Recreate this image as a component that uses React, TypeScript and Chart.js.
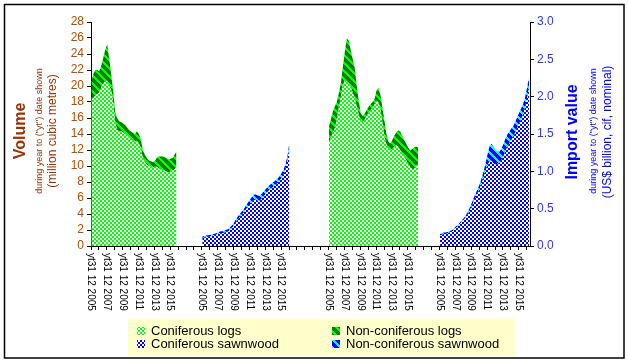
import React, { useEffect, useRef } from 'react';
import { Chart, registerables } from 'chart.js';
Chart.register(...registerables);

// ---- category / label data ----
const labelYears = ['2005', '2007', '2009', '2011', '2013', '2015'];
const tickLabels = labelYears.map((y) => `yt31 12 ${y}`);
const groupStartMonth = [0, 168, 360, 528]; // month slots of each panel on the shared axis
const totalMonths = 665;
const monthStep = 3; // values below are read every 3 months from Dec 2005

// ---- Volume (million m3) ----
const coniferousLogsVol = [18.3, 18.5, 18.8, 19.0, 19.2, 19.8, 20.3, 20.6, 20.6, 20.0, 19.5, 18.0, 15.5, 14.5, 14.3, 14.3, 14.2, 14.0, 13.8, 13.6, 13.4, 13.2, 13.0, 13.2, 12.8, 12.2, 11.0, 10.5, 10.2, 10.0, 9.9, 9.8, 9.9, 9.9, 9.7, 9.6, 9.5, 9.4, 9.3, 9.2, 9.3, 9.4, 9.6, 9.8];
const nonConiferousLogsVol = [2.2, 3.0, 3.2, 3.0, 2.6, 2.7, 3.2, 3.9, 4.6, 3.5, 2.0, 1.5, 1.3, 1.5, 1.3, 1.2, 1.1, 1.2, 1.0, 0.9, 0.9, 1.0, 1.0, 1.1, 1.2, 1.1, 1.0, 0.9, 0.8, 0.7, 0.7, 0.7, 0.7, 1.1, 1.5, 1.6, 1.7, 1.7, 1.7, 1.6, 1.6, 1.6, 1.8, 2.0];
const coniferousSawnVol = [1.0, 1.05, 1.1, 1.15, 1.2, 1.25, 1.3, 1.4, 1.5, 1.6, 1.6, 1.65, 1.75, 1.8, 2.0, 2.25, 2.55, 2.95, 3.35, 3.65, 3.95, 4.2, 4.55, 4.85, 5.1, 5.4, 5.7, 5.8, 5.7, 5.65, 5.9, 6.2, 6.5, 6.8, 7.0, 7.2, 7.45, 7.65, 7.85, 8.15, 8.5, 8.9, 9.6, 10.6, 12.3];
const nonConiferousSawnVol = [0.2, 0.2, 0.2, 0.2, 0.2, 0.2, 0.2, 0.2, 0.2, 0.2, 0.25, 0.25, 0.25, 0.3, 0.3, 0.3, 0.35, 0.35, 0.35, 0.35, 0.35, 0.4, 0.45, 0.55, 0.65, 0.7, 0.7, 0.65, 0.6, 0.6, 0.6, 0.6, 0.6, 0.6, 0.6, 0.6, 0.55, 0.55, 0.55, 0.55, 0.6, 0.6, 0.6, 0.6, 0.6];

// ---- Import value (US$ billion) ----
const coniferousLogsVal = [1.38, 1.45, 1.52, 1.58, 1.7, 1.85, 2.0, 2.15, 2.22, 2.2, 2.17, 2.13, 2.05, 1.98, 1.87, 1.76, 1.66, 1.65, 1.69, 1.74, 1.79, 1.82, 1.85, 1.9, 1.95, 1.93, 1.82, 1.65, 1.47, 1.36, 1.31, 1.28, 1.3, 1.33, 1.35, 1.33, 1.28, 1.24, 1.2, 1.15, 1.1, 1.06, 1.03, 1.03, 1.08, 1.1];
const nonConiferousLogsVal = [0.22, 0.25, 0.28, 0.29, 0.23, 0.2, 0.18, 0.25, 0.38, 0.58, 0.58, 0.49, 0.45, 0.4, 0.28, 0.19, 0.12, 0.09, 0.08, 0.08, 0.07, 0.08, 0.08, 0.07, 0.13, 0.19, 0.2, 0.2, 0.21, 0.14, 0.09, 0.09, 0.12, 0.15, 0.17, 0.22, 0.25, 0.23, 0.22, 0.22, 0.22, 0.22, 0.27, 0.29, 0.25, 0.22];
const coniferousSawnVal = [0.14, 0.15, 0.16, 0.16, 0.17, 0.18, 0.19, 0.21, 0.24, 0.26, 0.29, 0.32, 0.35, 0.38, 0.42, 0.47, 0.53, 0.59, 0.65, 0.71, 0.76, 0.83, 0.91, 1.0, 1.08, 1.13, 1.14, 1.1, 1.09, 1.1, 1.11, 1.15, 1.2, 1.27, 1.32, 1.37, 1.42, 1.46, 1.52, 1.58, 1.64, 1.7, 1.76, 1.85, 1.98, 2.11];
const nonConiferousSawnVal = [0.02, 0.02, 0.02, 0.02, 0.02, 0.02, 0.02, 0.02, 0.02, 0.02, 0.02, 0.02, 0.02, 0.03, 0.03, 0.04, 0.04, 0.05, 0.05, 0.05, 0.06, 0.07, 0.08, 0.1, 0.14, 0.2, 0.23, 0.23, 0.2, 0.17, 0.15, 0.15, 0.16, 0.16, 0.17, 0.16, 0.15, 0.14, 0.14, 0.14, 0.14, 0.14, 0.14, 0.14, 0.14, 0.14];

const legendItems = ['Coniferous logs', 'Non-coniferous logs', 'Coniferous sawnwood', 'Non-coniferous sawnwood'];

const FONT = '"Liberation Sans", Arial, sans-serif';
const BROWN = '#993300';
const BROWN_TICK = '#B84C00';
const BLUE = '#0000FF';

function makePattern(c1: string, c2: string, kind: 'checker' | 'stripe'): CanvasPattern | string {
  const t = document.createElement('canvas');
  t.width = 8;
  t.height = 8;
  const g = t.getContext('2d');
  if (!g) return c1;
  for (let y = 0; y < 8; y++) {
    for (let x = 0; x < 8; x++) {
      let on: boolean;
      if (kind === 'checker') on = (Math.floor(x / 2) + Math.floor(y / 2)) % 2 === 0;
      else on = (((x - y) % 8) + 8) % 8 < 3;
      g.fillStyle = on ? c2 : c1;
      g.fillRect(x, y, 1, 1);
    }
  }
  const p = g.createPattern(t, 'repeat');
  return p || c1;
}

function pts(offset: number, vals: number[], base?: number[]) {
  return vals.map((v, i) => ({ x: offset + i * monthStep + 0.5, y: v + (base ? base[i] : 0) }));
}

export default function App() {
  const ref = useRef<HTMLCanvasElement>(null);

  useEffect(() => {
    const canvas = ref.current;
    if (!canvas) return;
    const greenChecker = makePattern('#FFFFFF', '#00FF00', 'checker');
    const greenStripe = makePattern('#008000', '#00FF00', 'stripe');
    const blueChecker = makePattern('#FFFFFF', '#0000FF', 'checker');
    const blueStripe = makePattern('#0000FF', '#00FFFF', 'stripe');
    const swatches = [greenChecker, greenStripe, blueChecker, blueStripe];

    const groups = [
      { c: coniferousLogsVol, n: nonConiferousLogsVol, axis: 'y', pc: greenChecker, pn: greenStripe },
      { c: coniferousSawnVol, n: nonConiferousSawnVol, axis: 'y', pc: blueChecker, pn: blueStripe },
      { c: coniferousLogsVal, n: nonConiferousLogsVal, axis: 'y1', pc: greenChecker, pn: greenStripe },
      { c: coniferousSawnVal, n: nonConiferousSawnVal, axis: 'y1', pc: blueChecker, pn: blueStripe },
    ];
    const datasets: any[] = [];
    groups.forEach((g, gi) => {
      const off = groupStartMonth[gi];
      datasets.push({
        type: 'line', data: pts(off, g.c), yAxisID: g.axis, fill: 'origin',
        backgroundColor: g.pc, borderColor: 'rgba(0,0,0,0)', borderWidth: 0, pointRadius: 0, tension: 0,
      });
      datasets.push({
        type: 'line', data: pts(off, g.n, g.c), yAxisID: g.axis, fill: '-1',
        backgroundColor: g.pn, borderColor: 'rgba(0,0,0,0)', borderWidth: 0, pointRadius: 0, tension: 0,
      });
    });

    const deco = {
      id: 'deco',
      beforeDraw(chart: any) {
        const ctx = chart.ctx;
        ctx.save();
        ctx.fillStyle = '#FFFFFF';
        ctx.fillRect(0, 0, chart.width, chart.height);
        ctx.strokeStyle = '#000000';
        ctx.lineWidth = 1.5;
        ctx.strokeRect(4.5, 4.5, 619.5, 353.5);
        ctx.restore();
      },
      afterDraw(chart: any) {
        const ctx = chart.ctx;
        const xs = chart.scales.x;
        ctx.save();
        // x tick labels, rotated clockwise
        ctx.fillStyle = '#000000';
        ctx.font = `10px ${FONT}`;
        ctx.textAlign = 'left';
        ctx.textBaseline = 'middle';
        groupStartMonth.forEach((off) => {
          tickLabels.forEach((lab, k) => {
            const px = xs.getPixelForValue(off + k * 24);
            ctx.save();
            ctx.translate(px, chart.chartArea.bottom + 7);
            ctx.rotate(Math.PI / 2);
            ctx.fillText(lab, 0, 0);
            ctx.restore();
          });
        });
        // axis titles
        const vText = (txt: string, x: number, y: number, font: string, color: string) => {
          ctx.save();
          ctx.translate(x, y);
          ctx.rotate(-Math.PI / 2);
          ctx.font = font;
          ctx.fillStyle = color;
          ctx.textAlign = 'center';
          ctx.textBaseline = 'middle';
          ctx.fillText(txt, 0, 0);
          ctx.restore();
        };
        vText('Volume', 21, 131, `bold 16px ${FONT}`, BROWN);
        vText('during year to ("yt") date shown', 40, 131, `9px ${FONT}`, BROWN);
        vText('(million cubic metres)', 53, 131, `12px ${FONT}`, BROWN);
        vText('Import value', 573, 132, `bold 16px ${FONT}`, BLUE);
        vText('during year to ("yt") date shown', 594, 131, `9px ${FONT}`, BLUE);
        vText('(US$ billion, cif, nominal)', 608, 132, `12px ${FONT}`, BLUE);
        // legend
        ctx.fillStyle = '#FFFFCC';
        ctx.fillRect(128, 319, 387, 37);
        const pos = [
          [137, 331], [332, 331], [137, 344], [332, 344],
        ];
        ctx.font = `13px ${FONT}`;
        ctx.textAlign = 'left';
        ctx.textBaseline = 'middle';
        legendItems.forEach((lab, i) => {
          const [lx, ly] = pos[i];
          ctx.fillStyle = swatches[i] as any;
          ctx.fillRect(lx, ly - 4, 8, 8);
          ctx.fillStyle = '#000000';
          ctx.fillText(lab, lx + 14, ly + 0.5);
        });
        ctx.restore();
      },
    };

    const chart = new Chart(canvas, {
      type: 'line',
      data: { datasets },
      options: {
        animation: false,
        responsive: false,
        layout: { padding: { top: 22, left: 0, right: 0, bottom: 0 } },
        plugins: { legend: { display: false }, tooltip: { enabled: false } },
        elements: { line: { borderWidth: 0 }, point: { radius: 0 } },
        scales: {
          x: {
            type: 'linear', min: 0, max: totalMonths,
            afterBuildTicks: (s: any) => {
              const t: any[] = [];
              for (let v = 0; v <= totalMonths; v += 12) t.push({ value: v });
              s.ticks = t;
            },
            afterFit: (s: any) => { s.height = 362 - 246; },
            ticks: { display: false },
            grid: { drawOnChartArea: false, drawTicks: true, tickLength: 4, color: '#000000', lineWidth: 1 },
            border: { display: true, color: '#000000', width: 1 },
          },
          y: {
            type: 'linear', position: 'left', min: 0, max: 28,
            afterFit: (s: any) => { s.width = 91; },
            ticks: { stepSize: 2, autoSkip: false, color: BROWN_TICK, font: { family: FONT, size: 12 }, padding: 3 },
            grid: { drawOnChartArea: false, drawTicks: true, tickLength: 4, color: '#000000' },
            border: { display: true, color: '#000000', width: 1 },
          },
          y1: {
            type: 'linear', position: 'right', min: 0, max: 3,
            afterFit: (s: any) => { s.width = 628 - 530; },
            ticks: {
              stepSize: 0.5, autoSkip: false, color: '#3333FF', font: { family: FONT, size: 12 }, padding: 3,
              callback: (v: any) => Number(v).toFixed(1),
            },
            grid: { drawOnChartArea: false, drawTicks: true, tickLength: 4, color: '#000000' },
            border: { display: true, color: '#000000', width: 1 },
          },
        },
      } as any,
      plugins: [deco],
    });
    return () => chart.destroy();
  }, []);

  return (
    <div style={{ position: 'absolute', left: 0, top: 0, width: 628, height: 362 }}>
      <canvas ref={ref} width={628} height={362} style={{ display: 'block', width: 628, height: 362 }} />
    </div>
  );
}
